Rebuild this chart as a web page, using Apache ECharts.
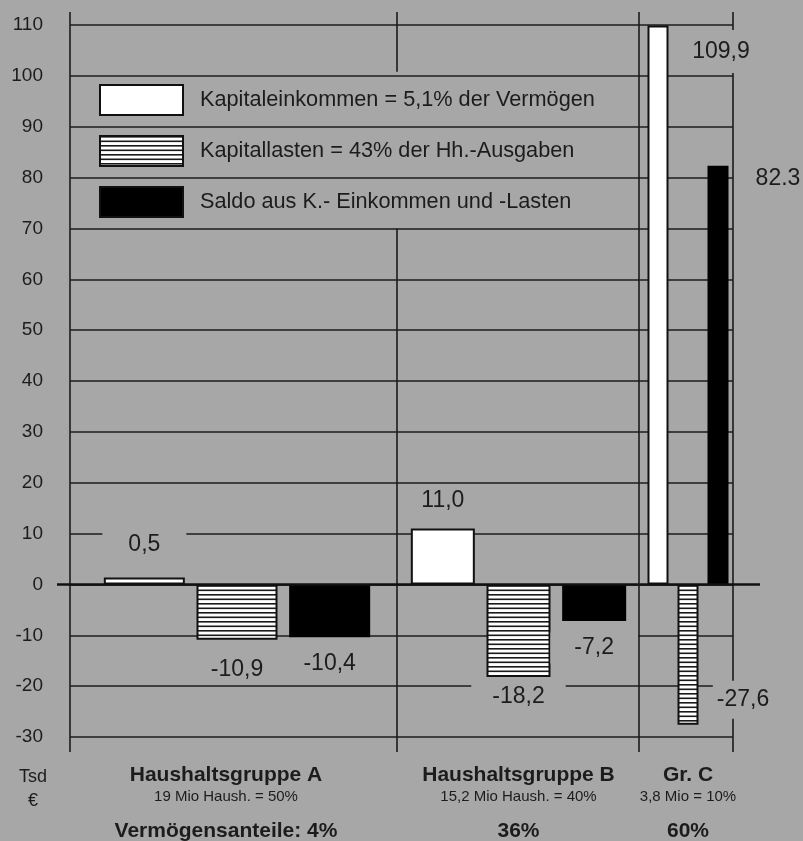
<!DOCTYPE html>
<html>
<head>
<meta charset="utf-8">
<script src="https://cdn.jsdelivr.net/npm/echarts@6/dist/echarts.min.js"></script>
<style>
html,body{margin:0;padding:0;background:#a7a7a7;}
#chart{width:803px;height:841px;}
</style>
</head>
<body>
<div id="chart"></div>
<script>
// ---- data ----
const groups = ['Haushaltsgruppe A', 'Haushaltsgruppe B', 'Gr. C'];
const groupSub = ['19 Mio Haush. = 50%', '15,2 Mio Haush. = 40%', '3,8 Mio = 10%'];
const wealthShare = ['Vermögensanteile: 4%', '36%', '60%'];
const seriesNames = ['Kapitaleinkommen = 5,1% der Vermögen', 'Kapitallasten = 43% der Hh.-Ausgaben', 'Saldo aus K.- Einkommen und -Lasten'];
const kapitaleinkommen = [0.5, 11.0, 109.9];
const kapitallasten = [-10.9, -18.2, -27.6];
const saldo = [-10.4, -7.2, 82.3];
const labelTexts = [
  ['0,5', '11,0', '109,9'],
  ['-10,9', '-18,2', '-27,6'],
  ['-10,4', '-7,2', '82.3']
];
const yMin = -30, yMax = 110, yStep = 10;
const yUnit = 'Tsd\n€';

// ---- layout / style ----
const BG = '#a7a7a7';
const INK = '#1c1c1c';
const FONT = "'Liberation Sans', Arial, sans-serif";
const gridTop = 25, gridBottom = 104;
const barGrids = [
  {left: 98, width: 278, barWidth: 81, namePad: [0, 22, 0, 0]},
  {left: 405, width: 227, barWidth: 64, namePad: [0, 0, 0, 0]},
  {left: 643, width: 90, barWidth: 21, namePad: [0, 0, 0, 0]}
];
const labelLayout = [
  [{position: 'top', distance: 16, padding: [5, 26], bg: true},
   {position: 'top', distance: 16},
   {position: 'insideTop', distance: 0, offset: [63, 4.5], padding: [10, 4], bg: true}],
  [{position: 'bottom', distance: 18},
   {position: 'bottom', distance: 4.5, padding: [4, 21], bg: true},
   {position: 'insideBottom', distance: 0, offset: [55, -6], padding: [7.5, 4], bg: true}],
  [{position: 'bottom', distance: 15},
   {position: 'bottom', distance: 11.5, padding: [4, 24], bg: true},
   {position: 'insideTop', distance: 0, offset: [60, 1]}]
];

// hatch pattern
const hatch = document.createElement('canvas');
hatch.width = 10; hatch.height = 9;
const hc = hatch.getContext('2d');
hc.fillStyle = '#ffffff'; hc.fillRect(0, 0, 10, 9);
hc.fillStyle = '#1a1a1a'; hc.fillRect(0, 0, 10, 1.6); hc.fillRect(0, 4.5, 10, 1.6);

const seriesValues = [kapitaleinkommen, kapitallasten, saldo];
const seriesStyles = [
  {color: '#ffffff', borderColor: '#111', borderWidth: 2},
  {color: {image: hatch, repeat: 'repeat'}, borderColor: '#111', borderWidth: 2},
  {color: '#000000', borderColor: '#000', borderWidth: 2}
];

const chart = echarts.init(document.getElementById('chart'), null, {renderer: 'canvas'});

const grid = [{left: 70, right: 70, top: gridTop, bottom: gridBottom, outerBoundsMode: 'none'}];
barGrids.forEach(g => grid.push({left: g.left, width: g.width, top: gridTop, bottom: gridBottom, outerBoundsMode: 'none'}));

const xAxis = [{gridIndex: 0, type: 'value', show: false, min: 0, max: 1}];
const yAxis = [{
  gridIndex: 0, type: 'value', min: yMin, max: yMax, interval: yStep,
  axisLine: {show: false}, axisTick: {show: false},
  axisLabel: {fontSize: 19, color: INK, fontFamily: FONT, margin: 27},
  splitLine: {show: true, lineStyle: {color: INK, width: 1.5}},
  name: yUnit, nameLocation: 'start', nameGap: 28,
  nameTextStyle: {fontSize: 18, color: INK, fontFamily: FONT, lineHeight: 24, align: 'center', padding: [0, 74, 0, 0]}
}];
barGrids.forEach((g, i) => {
  xAxis.push({
    gridIndex: i + 1, type: 'category', data: seriesNames,
    axisLine: {show: false}, axisTick: {show: false}, axisLabel: {show: false}, splitLine: {show: false},
    name: `{a|${groups[i]}}\n{b|${groupSub[i]}}\n{c|${wealthShare[i]}}`,
    nameLocation: 'middle', nameGap: 27,
    nameTextStyle: {
      color: INK, fontFamily: FONT, padding: g.namePad,
      rich: {
        a: {fontSize: 21, fontWeight: 'bold', lineHeight: 22, color: INK, fontFamily: FONT},
        b: {fontSize: 15, lineHeight: 22, color: INK, fontFamily: FONT},
        c: {fontSize: 21, fontWeight: 'bold', lineHeight: 46, color: INK, fontFamily: FONT}
      }
    }
  });
  yAxis.push({gridIndex: i + 1, type: 'value', min: yMin, max: yMax, interval: yStep, show: false});
});

const series = [];
seriesNames.forEach((name, s) => {
  barGrids.forEach((g, i) => {
    const L = labelLayout[s][i];
    const data = seriesNames.map((_, k) => {
      if (k !== s) return '-';
      return {
        value: seriesValues[s][i],
        label: {
          show: true, position: L.position, distance: L.distance, offset: L.offset || [0, 0],
          formatter: labelTexts[s][i],
          fontSize: 23, color: INK, fontFamily: FONT, textBorderWidth: 0,
          padding: L.padding || 0,
          backgroundColor: L.bg ? BG : 'transparent'
        }
      };
    });
    series.push({
      type: 'bar', name, xAxisIndex: i + 1, yAxisIndex: i + 1,
      data, barWidth: g.barWidth, barGap: '-100%', barMinHeight: s === 0 ? 7 : 0,
      itemStyle: seriesStyles[s], emphasis: {disabled: true}, silent: true
    });
  });
});

const option = {
  animation: false,
  backgroundColor: BG,
  grid, xAxis, yAxis, series,
  legend: {
    data: seriesNames, orient: 'vertical', left: 99, top: 84, padding: 0,
    itemWidth: 83, itemHeight: 30, itemGap: 19, icon: 'rect', selectedMode: false,
    textStyle: {fontSize: 21.7, color: INK, fontFamily: FONT, padding: [0, 0, 0, 12]},
    itemStyle: {borderColor: '#111', borderWidth: 2}
  }
};
chart.setOption(option);

// structural lines (axis, group separators, zero line) placed through the y scale
const yPx = v => chart.convertToPixel({yAxisIndex: 0}, v);
const topY = yPx(yMax) - 13, botY = yPx(yMin) + 15;
const vLines = [
  {x: 70, y1: topY, y2: botY, z: 0},
  {x: 397, y1: topY, y2: yPx(100) - 4, z: 0},
  {x: 397, y1: yPx(70), y2: botY, z: 0},
  {x: 639, y1: topY, y2: botY, z: 100},
  {x: 733, y1: topY, y2: botY, z: 0}
];
const graphic = vLines.map(l => ({
  type: 'line', silent: true, z: l.z,
  shape: {x1: l.x, y1: l.y1, x2: l.x, y2: l.y2},
  style: {stroke: INK, lineWidth: 1.6}
}));
graphic.push({
  type: 'line', silent: true, z: 50,
  shape: {x1: 57, y1: yPx(0), x2: 760, y2: yPx(0)},
  style: {stroke: '#111', lineWidth: 2.6}
});
chart.setOption({graphic});
</script>
</body>
</html>
